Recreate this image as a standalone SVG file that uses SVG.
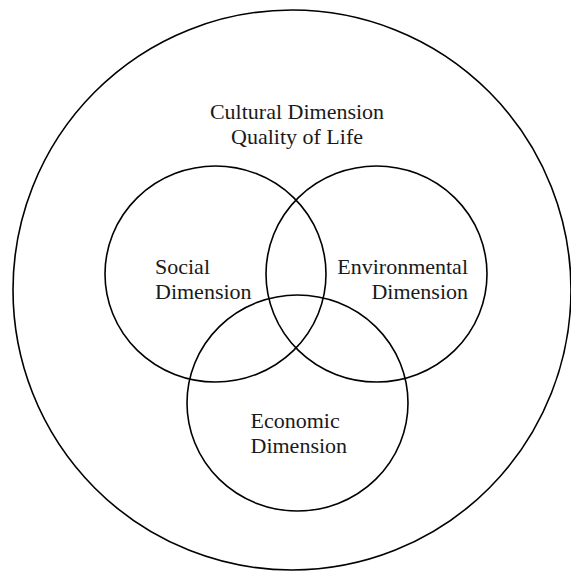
<svg xmlns="http://www.w3.org/2000/svg" width="571" height="572" viewBox="0 0 571 572">
<style>
.c{fill:none;stroke:#000;stroke-width:1.6}
.t{font-family:"Liberation Serif","Times New Roman",serif;font-size:22px;fill:#1a1a1a}
</style>
<rect width="571" height="572" fill="#fff"/>
<g id="cultural">
<ellipse class="c" cx="292" cy="290" rx="279" ry="280"/>
<text class="t" x="297" y="119" text-anchor="middle">Cultural Dimension</text>
<text class="t" x="297" y="144" text-anchor="middle">Quality of Life</text>
</g>
<g id="social">
<ellipse class="c" cx="215.5" cy="274" rx="110.5" ry="108"/>
<text class="t" x="155" y="274">Social</text>
<text class="t" x="155" y="299">Dimension</text>
</g>
<g id="environmental">
<ellipse class="c" cx="376.5" cy="274" rx="110.5" ry="108"/>
<text class="t" x="468" y="274" text-anchor="end">Environmental</text>
<text class="t" x="468" y="299" text-anchor="end">Dimension</text>
</g>
<g id="economic">
<ellipse class="c" cx="297.5" cy="403" rx="110.5" ry="108"/>
<text class="t" x="250.5" y="428">Economic</text>
<text class="t" x="250.5" y="453">Dimension</text>
</g>
<g id="connectors"/>
</svg>
